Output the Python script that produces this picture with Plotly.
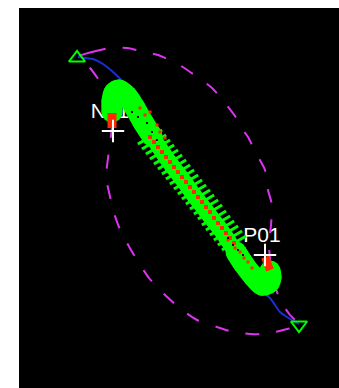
import plotly.graph_objects as go

# ---- data (screen-like units, y grows downward) ----
ellipse_x = [78, 92, 110, 127, 145, 158, 178, 193, 212, 225, 235, 243, 248, 257, 265, 268, 272, 271, 269, 272, 280, 290, 299,
             283, 266, 250, 233, 217, 197, 182, 164, 149, 137, 127, 119, 113, 109, 106, 108, 110, 112, 110, 102, 90, 78]
ellipse_y = [57, 52, 48, 48, 52, 55, 64, 74, 88, 103, 116, 130, 137, 155, 170, 190, 205, 225, 245, 275, 300, 315, 325,
             330, 334, 334, 332, 327, 320, 310, 294, 278, 260, 243, 227, 210, 192, 178, 158, 143, 125, 105, 85, 68, 57]

trace_x = [78, 85, 93, 103, 113, 123, 143, 163, 183, 203, 223, 243, 260, 270, 275, 280, 287, 292, 299]
trace_y = [57, 58, 59, 64, 72, 82, 122, 153, 180, 207, 233, 263, 290, 298, 305, 312, 317, 320, 324]

band_up_x = [112, 112, 114, 119, 127, 135, 143, 152]
band_up_y = [112, 101, 93, 90, 96, 108, 122, 136]
band_mid_x = [150, 163, 173, 183, 193, 203, 213, 223, 233, 240]
band_mid_y = [133, 153, 167, 180, 194, 207, 220, 233, 248, 258]
band_low_x = [236, 243, 253, 262, 269, 271, 270]
band_low_y = [252, 263, 276, 285, 283, 277, 271]

stri_x = [150, 154, 158, 162, 166, 170, 174, 178, 182, 186, 190, 194, 198, 202, 206, 210, 214, 218, 222, 226, 230, 234]
stri_y = [137, 142, 147, 152, 157, 162, 167, 172, 177, 182, 187, 192, 197, 202, 207, 212, 218, 223, 228, 233, 238, 243]

red_dot_x = [140, 145, 150, 157, 160, 165, 228, 235, 240, 244, 248, 252]
red_dot_y = [108, 115, 112, 125, 132, 138, 240, 248, 252, 258, 262, 268]

dark_dot_x = [132, 138, 147, 152, 157, 228, 233, 238, 243]
dark_dot_y = [112, 117, 123, 132, 140, 238, 245, 250, 255]

labels = ["N01", "P01"]
label_x = [110, 262]
label_y = [113, 237]

n_bar_x = [112, 112]
n_bar_y = [113, 128]
p_bar_x = [265, 270]
p_bar_y = [257, 270]

cross_x = [113, 265]
cross_y = [131, 255]

tri_up = ([77], [58])
tri_dn = ([299], [325])

GREEN = "#00ff00"
RED = "#ff2a00"
MAG = "#dd33ee"
BLUE = "#1830d8"

fig = go.Figure()
fig.add_trace(go.Scatter(x=label_x, y=label_y, mode="text", text=labels,
                         textfont=dict(color="white", size=21, family="Liberation Sans")))
fig.add_trace(go.Scatter(x=ellipse_x, y=ellipse_y, mode="lines", line=dict(color=MAG, width=2, dash="14px,17px", shape="spline", smoothing=0.6)))
fig.add_trace(go.Scatter(x=trace_x, y=trace_y, mode="lines", line=dict(color=BLUE, width=2, shape="spline", smoothing=0.5)))
# band
fig.add_trace(go.Scatter(x=band_mid_x, y=band_mid_y, mode="lines", line=dict(color=GREEN, width=16, shape="spline")))
fig.add_trace(go.Scatter(x=stri_x, y=stri_y, mode="markers",
                         marker=dict(symbol="line-ew", size=20, angle=-30, line=dict(color=GREEN, width=3))))
fig.add_trace(go.Scatter(x=band_up_x, y=band_up_y, mode="lines+markers", line=dict(color=GREEN, width=21, shape="spline"),
                         marker=dict(color=GREEN, size=21, line=dict(width=0))))
fig.add_trace(go.Scatter(x=band_low_x, y=band_low_y, mode="lines+markers", line=dict(color=GREEN, width=21, shape="spline"),
                         marker=dict(color=GREEN, size=21, line=dict(width=0))))
fig.add_trace(go.Scatter(x=stri_x, y=stri_y, mode="markers",
                         marker=dict(symbol="square", size=4, color=RED, line=dict(width=0))))
fig.add_trace(go.Scatter(x=red_dot_x, y=red_dot_y, mode="markers",
                         marker=dict(symbol="square", size=3, color=RED, line=dict(width=0))))
fig.add_trace(go.Scatter(x=dark_dot_x, y=dark_dot_y, mode="markers",
                         marker=dict(symbol="square", size=2, color="black", line=dict(width=0))))
# end bars
fig.add_trace(go.Scatter(x=n_bar_x, y=n_bar_y, mode="lines", line=dict(color=RED, width=9)))
fig.add_trace(go.Scatter(x=p_bar_x, y=p_bar_y, mode="lines", line=dict(color=RED, width=8)))
fig.add_trace(go.Scatter(x=cross_x, y=cross_y, mode="markers",
                         marker=dict(symbol="cross-thin", size=16, line=dict(color="white", width=2))))
fig.add_trace(go.Scatter(x=tri_up[0], y=tri_up[1], mode="markers",
                         marker=dict(symbol="triangle-up-open", size=14, color=GREEN, line=dict(color=GREEN, width=2))))
fig.add_trace(go.Scatter(x=tri_dn[0], y=tri_dn[1], mode="markers",
                         marker=dict(symbol="triangle-down-open", size=14, color=GREEN, line=dict(color=GREEN, width=2))))

fig.update_layout(
    width=339, height=388, showlegend=False,
    paper_bgcolor="white", plot_bgcolor="black",
    margin=dict(l=19, r=0, t=8, b=0),
    xaxis=dict(range=[19, 339], visible=False, fixedrange=True),
    yaxis=dict(range=[388, 8], visible=False, fixedrange=True),
)
fig.write_html("out.html", config={"displayModeBar": False},
               post_script="document.body.style.margin='0px';document.body.style.overflow='hidden';"
                           "document.documentElement.style.overflow='hidden';")
